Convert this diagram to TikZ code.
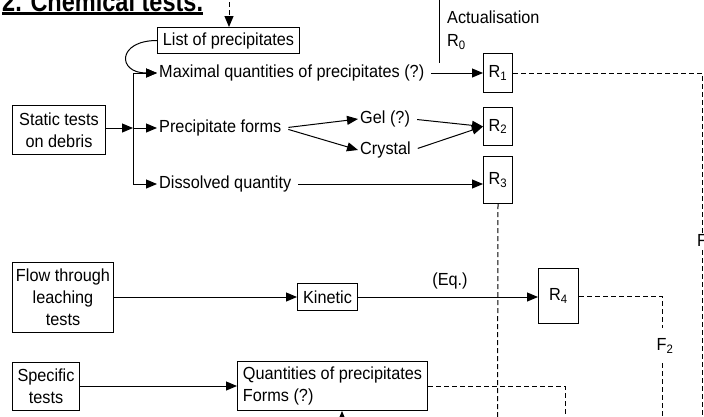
\documentclass[tikz,border=0pt]{standalone}
\usepackage{fontspec}
\setmainfont[FakeStretch=0.93]{Liberation Sans}
\newfontfamily\titlefont[FakeStretch=0.84]{Liberation Sans}
\usetikzlibrary{arrows.meta}
\tikzset{
  base/.style={font=\fontsize{17.5}{22}\selectfont},
  box/.style={base,draw,line width=1pt,inner sep=1pt,align=center,anchor=north west},
  txt/.style={base,inner sep=2pt,anchor=west},
  conn/.style={line width=1pt,-{Triangle[length=11pt,width=9pt]}},
  gap/.style={shorten <=5pt},
  plain/.style={line width=1pt},
  dsh/.style={line width=1pt,dash pattern=on 5pt off 3pt},
}
\begin{document}
\begin{tikzpicture}[x=1pt,y=-1pt]
\useasboundingbox (0,0) rectangle (704,416);
% title
\node[anchor=base west,inner sep=0,font=\titlefont\bfseries\fontsize{28}{30}\selectfont] (title) at (2,11) {2. Chemical tests.};
\draw[line width=2.5pt] ([yshift=-2.5pt]title.base west) -- ([yshift=-2.5pt]title.base east);
% boxes
\node[box,minimum width=142pt,minimum height=26pt] (list) at (157,27) {List of precipitates};
\node[box,minimum width=93pt,minimum height=49pt] (static) at (12,105) {Static tests\\on debris};
\node[box,minimum width=101pt,minimum height=70pt] (flow) at (12,262) {Flow through\\leaching\\tests};
\node[box,minimum width=67pt,minimum height=48pt] (specific) at (12,362) {Specific\\tests};
\node[box,minimum width=60pt,minimum height=27pt] (kinetic) at (297,283) {Kinetic};
\node[box,minimum width=190pt,minimum height=49pt,align=left] (quant) at (237,361) {Quantities of precipitates\\Forms (?)};
\node[box,minimum width=29pt,minimum height=39pt] (R1) at (483,53) {R\textsubscript{1}};
\node[box,minimum width=29pt,minimum height=38pt] (R2) at (483,107) {R\textsubscript{2}};
\node[box,minimum width=29pt,minimum height=47pt] (R3) at (483,156) {R\textsubscript{3}};
\node[box,minimum width=40pt,minimum height=55pt] (R4) at (538,268) {R\textsubscript{4}};
% text nodes
\node[txt] (maxq) at (157,73) {Maximal quantities of precipitates (?)};
\node[txt] (pforms) at (157,128) {Precipitate forms};
\node[txt] (dissolved) at (157,184) {Dissolved quantity};
\node[txt] (gel) at (358,119) {Gel (?)};
\node[txt] (crystal) at (358,150) {Crystal};
\node[txt] (actu) at (445,17) {Actualisation};
\node[txt] (r0) at (445,42) {R\textsubscript{0}};
\node[base,inner sep=1pt] (eq) at (450,281) {(Eq.)};
\node[base,inner sep=1pt] (f2) at (665,346) {F\textsubscript{2}};
\node[txt,inner sep=0pt] (f1) at (697,242) {F\textsubscript{1}};
% coordinates
\coordinate (br) at (133,128);
\coordinate (brtop) at (133,73);
\coordinate (brbot) at (133,184);
\coordinate (topin) at (229,-6);
\coordinate (a0) at (439,-2);
\coordinate (a1) at (439,63);
\coordinate (f1a) at (702,235);
\coordinate (f1b) at (702,250);
\coordinate (f1c) at (702,420);
\coordinate (f2a) at (662,328);
\coordinate (f2b) at (662,363);
\coordinate (f2c) at (662,420);
\coordinate (r3c) at (497.5,420);
\coordinate (qc) at (565,420);
\coordinate (bt0) at (342,440);
\coordinate (bt1) at (342,411);
% connectors
\draw[conn,dsh] (topin) -- (list.north -| topin);
\draw[plain] (a0) -- (a1);
\draw[conn] (list.west) .. controls +(-40,0) and +(-40,0) .. (maxq.west);
\draw[conn] (static.east |- br) -- (br);
\draw[plain] (brtop) -- (brbot);
\draw[conn] (brtop) -- (maxq.west);
\draw[conn] (br) -- (pforms.west);
\draw[conn] (brbot) -- (dissolved.west);
\draw[conn,gap] (maxq.east) -- (maxq.east -| R1.west);
\draw[conn,gap] (pforms.east) -- (gel.west);
\draw[conn,gap] (pforms.east) -- (crystal.west);
\draw[conn,gap] (gel.east) -- (R2.west);
\draw[conn,gap] (crystal.east) -- (R2.west);
\draw[conn,gap] (dissolved.east) -- (dissolved.east -| R3.west);
\draw[conn] (flow.east |- kinetic.west) -- (kinetic.west);
\draw[conn] (kinetic.east) -- (kinetic.east -| R4.west);
\draw[conn] (specific.east |- quant.west) -- (quant.west);
\draw[dsh] (R1.east) -| (f1a);
\draw[dsh] (f1b) -- (f1c);
\draw[dsh] (R4.east) -| (f2a);
\draw[dsh] (f2b) -- (f2c);
\draw[dsh] (R3.south) -- (r3c);
\draw[dsh] (quant.east) -| (qc);
\draw[conn] (bt0) -- (bt1);
\end{tikzpicture}
\end{document}
